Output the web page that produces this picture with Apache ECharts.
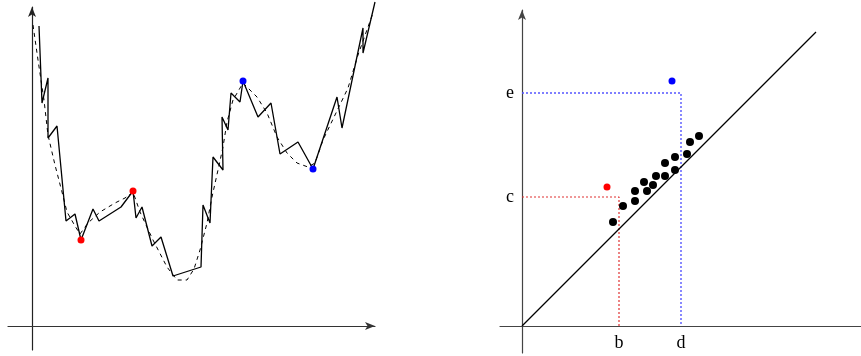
<!DOCTYPE html>
<html>
<head>
<meta charset="utf-8">
<script src="https://cdn.jsdelivr.net/npm/echarts@6/dist/echarts.min.js"></script>
<style>
html,body{margin:0;padding:0;background:#fff;}
#chart{width:861px;height:356px;}
</style>
</head>
<body>
<div id="chart"></div>
<script>
// Left panel: noisy path (solid) and its smoothed trend (dashed)
const pathSolid = [[7,300],[10,223],[16,248],[16,188],[25,200],[34,105],[43,112],[49,86],[61,117],[67,105],[89,119],[101,135],[104,108],[110,119],[120,80],[129,89],[141,50],[169,59],[171,121],[178,103],[181,169],[191,156],[190,209],[196,196],[199,233],[208,224],[211,245],[226,209],[239,223],[248,172],[266,184],[281,157],[305,229],[310,198],[331,298],[331,273],[343,324]];
const pathSmooth = [[1,301],[6,266],[12,226],[16,191],[23,161],[30,134],[35,114],[43,100],[48,92],[56,103],[68,114],[83,123],[93,128],[101,134],[108,114],[121,86],[135,59],[145,46],[155,46],[162,57],[168,76],[175,103],[180,129],[186,156],[191,179],[195,204],[201,226],[211,243],[225,229],[235,213],[245,189],[255,173],[265,163],[276,159],[283,163],[291,186],[303,211],[316,238],[326,271],[341,313]];
const leftRed = [[49,86],[101,135]];
const leftBlue = [[211,245],[281,157]];

// Right panel: scatter around the diagonal
const blackPts = [[91,104],[101,120],[113,125],[113,135],[122,144],[125,135],[131,141],[134,150],[143,150],[143,163],[153,156],[153,169],[165,172],[168,184],[177,190]];
const rightRed = [[85,139]];
const rightBlue = [[150,245]];
const diagonal = [[0,0],[294,294]];
const xTickValues = [97, 159];
const xTickNames = ['b', 'd'];
const yTickValues = [129, 233];
const yTickNames = ['c', 'e'];

const chart = echarts.init(document.getElementById('chart'), null, {renderer: 'canvas'});

function axisBase(min, max, gridIndex, arrow, color) {
  return {
    type: 'value', gridIndex: gridIndex, min: min, max: max,
    splitLine: {show: false}, axisTick: {show: false}, axisLabel: {show: false},
    axisLine: {show: true, onZero: true, symbol: arrow ? ['none', 'arrow'] : ['none', 'none'],
      symbolSize: [6, 10], lineStyle: {color: color, width: 1.2}}
  };
}

const rx = axisBase(-22, 339, 1, false, '#444');
rx.axisLabel = {show: true, customValues: xTickValues, margin: -19,
  formatter: v => xTickNames[xTickValues.indexOf(v)],
  fontFamily: 'Liberation Serif', fontSize: 18, color: '#000'};
const ry = axisBase(-27, 316, 1, true, '#444');
ry.axisLabel = {show: true, customValues: yTickValues, margin: -14,
  formatter: v => yTickNames[yTickValues.indexOf(v)],
  fontFamily: 'Liberation Serif', fontSize: 18, color: '#000'};

const option = {
  animation: false,
  backgroundColor: '#fff',
  grid: [
    {left: 8, top: 7, width: 367, height: 343, outerBoundsMode: 'none', containLabel: false},
    {left: 500, top: 10, width: 361, height: 343, outerBoundsMode: 'none', containLabel: false}
  ],
  xAxis: [axisBase(-24, 343, 0, true, '#333'), rx],
  yAxis: [axisBase(-24, 319, 0, true, '#222'), ry],
  series: [
    {type: 'line', xAxisIndex: 0, yAxisIndex: 0, data: pathSmooth, symbol: 'none', clip: false,
      lineStyle: {color: '#000', width: 1, type: [4, 4]}, z: 2},
    {type: 'line', xAxisIndex: 0, yAxisIndex: 0, data: pathSolid, symbol: 'none', clip: false,
      lineStyle: {color: '#000', width: 1.3}, z: 3},
    {type: 'scatter', xAxisIndex: 0, yAxisIndex: 0, data: leftRed, symbolSize: 7,
      itemStyle: {color: '#ff0000', opacity: 1}, z: 5},
    {type: 'scatter', xAxisIndex: 0, yAxisIndex: 0, data: leftBlue, symbolSize: 7,
      itemStyle: {color: '#0000ff', opacity: 1}, z: 5},
    {type: 'line', xAxisIndex: 1, yAxisIndex: 1, data: diagonal, symbol: 'none',
      lineStyle: {color: '#000', width: 1.3}, z: 3},
    {type: 'line', xAxisIndex: 1, yAxisIndex: 1,
      data: [[0, yTickValues[0]], [xTickValues[0], yTickValues[0]], [xTickValues[0], 0]], symbol: 'none',
      lineStyle: {color: '#e03030', width: 1.2, type: [2, 2]}, z: 2},
    {type: 'line', xAxisIndex: 1, yAxisIndex: 1,
      data: [[0, yTickValues[1]], [xTickValues[1], yTickValues[1]], [xTickValues[1], 0]], symbol: 'none',
      lineStyle: {color: '#5555ff', width: 1.4, type: [2, 2]}, z: 2},
    {type: 'scatter', xAxisIndex: 1, yAxisIndex: 1, data: blackPts, symbolSize: 8,
      itemStyle: {color: '#000', opacity: 1}, z: 5},
    {type: 'scatter', xAxisIndex: 1, yAxisIndex: 1, data: rightRed, symbolSize: 7,
      itemStyle: {color: '#ff0000', opacity: 1}, z: 5},
    {type: 'scatter', xAxisIndex: 1, yAxisIndex: 1, data: rightBlue, symbolSize: 7,
      itemStyle: {color: '#0000ff', opacity: 1}, z: 5}
  ]
};
chart.setOption(option);
</script>
</body>
</html>
